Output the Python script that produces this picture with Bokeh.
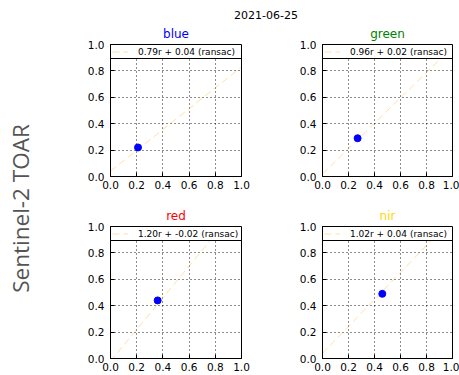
import numpy as np
from bokeh.plotting import figure
from bokeh.layouts import row, column
from bokeh.models import Range1d, FixedTicker, Label, NumeralTickFormatter
from bokeh.embed import file_html
from bokeh.resources import INLINE

# ---- data ----
date_label = "2021-06-25"
y_label = "Sentinel-2 TOAR"
bands = ["blue", "green", "red", "nir"]
band_colors = ["blue", "green", "red", "gold"]
slopes = [0.79, 0.96, 1.20, 1.02]
intercepts = [0.04, 0.02, -0.02, 0.04]
ref_vals = [0.21, 0.27, 0.36, 0.46]
toar_vals = [0.22, 0.29, 0.44, 0.49]
ticks = [0.0, 0.2, 0.4, 0.6, 0.8, 1.0]
line_x = [0.0, 1.0]

FONT = "DejaVu Sans"
FRAME_H = 132


def make_panel(i, width, height, left, right, top, bottom):
    p = figure(width=width, height=height, x_range=Range1d(0, 1), y_range=Range1d(0, 1),
               toolbar_location=None, output_backend="svg", title=bands[i],
               min_border_left=left, min_border_right=right,
               min_border_top=top, min_border_bottom=bottom)
    p.title.align = "center"
    p.title.vertical_align = "middle"
    p.title.text_color = band_colors[i]
    p.title.text_font = FONT
    p.title.text_font_size = "12px"
    p.title.text_font_style = "normal"
    p.title.standoff = 6

    for ax in (p.xaxis[0], p.yaxis[0]):
        ax.ticker = FixedTicker(ticks=ticks)
        ax.formatter = NumeralTickFormatter(format="0.0")
        ax.major_label_text_font = FONT
        ax.major_label_text_font_size = "10.5px"
        ax.major_label_text_color = "black"
        ax.major_tick_in = 4
        ax.major_tick_out = 0
        ax.minor_tick_line_color = None
        ax.axis_line_color = "black"
        ax.major_tick_line_color = "black"
    p.xaxis.major_label_standoff = 4
    p.yaxis.major_label_standoff = 6

    p.grid.grid_line_color = "black"
    p.grid.grid_line_dash = "1 3"
    p.grid.grid_line_alpha = 0.9
    p.outline_line_color = "black"
    p.outline_line_alpha = 1
    p.outline_line_width = 1

    fit_y = [slopes[i] * x + intercepts[i] for x in line_x]
    label = f"{slopes[i]:.2f}r + {intercepts[i]:.2f} (ransac)"
    p.line(line_x, fit_y, line_color="orange", line_alpha=0.35, line_dash="7 4",
           line_width=1, legend_label=label)
    p.scatter([ref_vals[i]], [toar_vals[i]], size=7, fill_color="blue", line_color="blue")

    lg = p.legend[0]
    lg.location = (0, FRAME_H - 15)
    lg.margin = 0
    lg.padding = 1
    lg.spacing = 0
    lg.glyph_width = 16
    lg.glyph_height = 11
    lg.label_standoff = 10
    lg.label_width = 104
    lg.label_height = 11
    lg.label_text_font = FONT
    lg.label_text_font_size = "9px"
    lg.label_text_color = "black"
    lg.border_line_color = "black"
    lg.border_line_width = 1
    lg.border_line_alpha = 1
    lg.background_fill_color = "white"
    lg.background_fill_alpha = 1
    return p


p0 = make_panel(0, 206, 178, 44, 31, 22, 24)
p1 = make_panel(1, 187, 178, 50, 7, 22, 24)
p2 = make_panel(2, 206, 175, 44, 31, 26, 17)
p3 = make_panel(3, 187, 175, 50, 7, 26, 17)

sup = figure(width=393, height=22, x_range=Range1d(0, 393), y_range=Range1d(0, 22),
             toolbar_location=None, output_backend="svg", min_border=0,
             x_axis_type=None, y_axis_type=None, outline_line_color=None)
sup.add_layout(Label(x=199.5, y=7.5, text=date_label, text_align="center", text_baseline="middle",
                     text_font=FONT, text_font_size="11px", text_color="black"))

lf = figure(width=66, height=375, x_range=Range1d(0, 66), y_range=Range1d(0, 375),
            toolbar_location=None, output_backend="svg", min_border=0,
            x_axis_type=None, y_axis_type=None, outline_line_color=None)
lf.add_layout(Label(x=20, y=167, text=y_label, angle=np.pi / 2, text_align="center",
                    text_baseline="middle", text_font="Open Sans", text_font_size="22.5px",
                    text_color="#555555"))

layout = row(lf, column(sup, row(p0, p1), row(p2, p3)))

open("out.html", "w").write(file_html(layout, INLINE))
